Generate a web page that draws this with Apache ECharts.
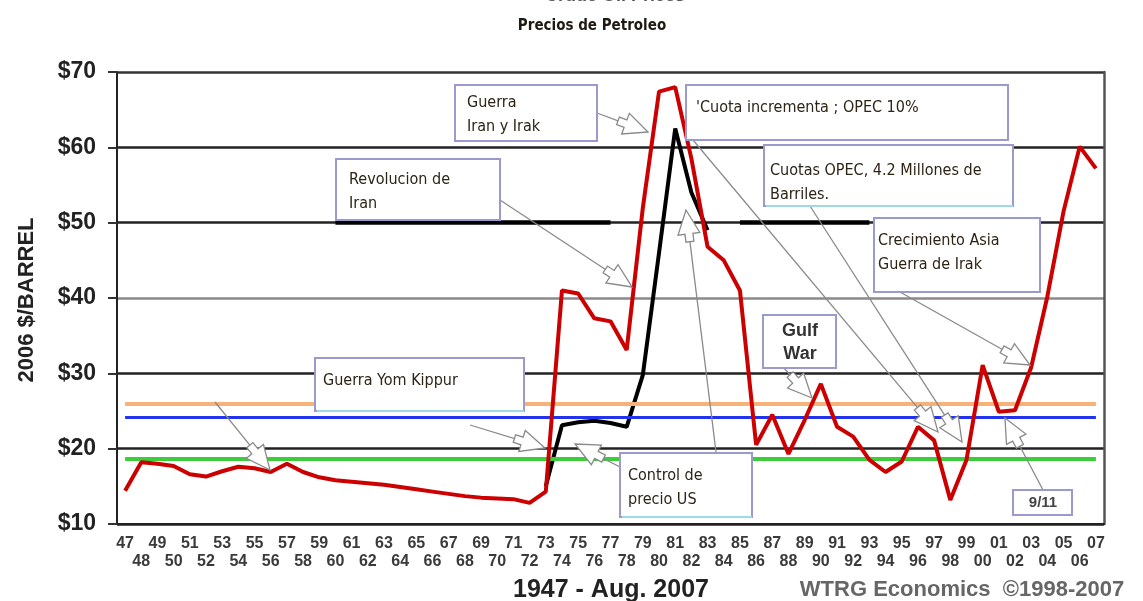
<!DOCTYPE html>
<html>
<head>
<meta charset="utf-8">
<script src="https://cdn.jsdelivr.net/npm/echarts@6/dist/echarts.min.js"></script>
<style>
html,body{margin:0;padding:0;background:#fff;}
#chart{width:1143px;height:601px;}
</style>
</head>
<body>
<div id="chart"></div>
<script>
const years = ['1947','1948','1949','1950','1951','1952','1953','1954','1955','1956','1957','1958','1959','1960','1961','1962','1963','1964','1965','1966','1967','1968','1969','1970','1971','1972','1973','1974','1975','1976','1977','1978','1979','1980','1981','1982','1983','1984','1985','1986','1987','1988','1989','1990','1991','1992','1993','1994','1995','1996','1997','1998','1999','2000','2001','2002','2003','2004','2005','2006','2007'];
const tickLabels = ['47','48','49','50','51','52','53','54','55','56','57','58','59','60','61','62','63','64','65','66','67','68','69','70','71','72','73','74','75','76','77','78','79','80','81','82','83','84','85','86','87','88','89','90','91','92','93','94','95','96','97','98','99','00','01','02','03','04','05','06','07'];
const realPrice2006 = [14.4,18.2,18.0,17.7,16.6,16.3,17.0,17.6,17.4,16.9,18.0,16.9,16.2,15.8,15.6,15.4,15.2,14.9,14.6,14.3,14.0,13.7,13.5,13.4,13.3,12.8,14.3,41.0,40.6,37.3,36.9,33.1,52.0,67.4,68.0,58.5,46.8,45.0,41.0,20.5,24.5,19.3,23.8,28.6,22.9,21.6,18.5,16.9,18.3,22.9,21.1,13.2,18.5,31.1,24.9,25.1,30.8,40.2,51.5,60.1,57.2];
const blackYears = ['1973','1974','1975','1976','1977','1978','1979','1980','1981','1982','1983'];
const blackValues = [15.0,23.1,23.5,23.7,23.4,22.9,29.8,46.0,62.5,54.0,49.0];
const refLevels = {orange: 26.0, blue: 24.2, green: 18.6};

const chart = echarts.init(document.getElementById('chart'));
const boxFont = '16px "Liberation Sans Narrow","DejaVu Sans Condensed","Roboto Condensed",sans-serif';
const boxColor = '#2d2416';
const border = '#9a9ad0';

function box(x, y, w, h, lines, tx, ty, opts) {
  opts = opts || {};
  const els = [{
    type: 'rect', z: 100,
    shape: {x: x, y: y, width: w, height: h},
    style: {fill: '#fff', stroke: border, lineWidth: 2}
  }];
  if (opts.cyanBottom) {
    els.push({type: 'line', z: 101, shape: {x1: x + 2, y1: y + h, x2: x + w, y2: y + h}, style: {stroke: '#9fd8ea', lineWidth: 2}});
  }
  lines.forEach(function (t, i) {
    els.push({
      type: 'text', z: 102, x: tx, y: ty + i * (opts.lh || 24),
      style: {text: t, font: opts.font || boxFont, fill: opts.fill || boxColor,
        textAlign: opts.align || 'left', textVerticalAlign: 'middle'}
    });
  });
  return els;
}
function arrow(x1, y1, x2, y2) {
  const dx = x2 - x1, dy = y2 - y1, len = Math.sqrt(dx * dx + dy * dy);
  const ux = dx / len, uy = dy / len, nx = -uy, ny = ux;
  const L = 24, W = 11;
  const bx = x2 - ux * L, by = y2 - uy * L;
  return [
    {type: 'line', z: 90, shape: {x1: x1, y1: y1, x2: bx, y2: by}, style: {stroke: '#8a8a8a', lineWidth: 1.3}},
    {type: 'polygon', z: 91, shape: {points: [[x2, y2], [bx + nx * W, by + ny * W], [bx + nx * 4, by + ny * 4], [bx - ux * 8 + nx * 4, by - uy * 8 + ny * 4], [bx - ux * 8 - nx * 4, by - uy * 8 - ny * 4], [bx - nx * 4, by - ny * 4], [bx - nx * W, by - ny * W]]},
      style: {fill: '#fff', stroke: '#8a8a8a', lineWidth: 1.3}}
  ];
}

let graphics = [];
graphics = graphics.concat(
  arrow(597, 113, 648, 132),
  arrow(500, 200, 632, 287),
  arrow(215, 402, 270, 470),
  arrow(470, 425, 545, 448),
  arrow(622, 468, 575, 444),
  arrow(716, 452, 686, 210),
  arrow(693, 140, 938, 432),
  arrow(810, 206, 962, 442),
  arrow(900, 292, 1030, 365),
  arrow(782, 366, 812, 398),
  arrow(1043, 490, 1005, 418),
  box(455, 85, 142, 56, ['Guerra', 'Iran y Irak'], 467, 103),
  box(336, 159, 164, 61, ['Revolucion de', 'Iran'], 349, 180),
  box(686, 85, 322, 55, ["'Cuota incrementa ; OPEC 10%"], 696, 108),
  box(764, 145, 249, 61, ['Cuotas OPEC, 4.2 Millones de', 'Barriles.'], 770, 171, {cyanBottom: true}),
  box(874, 218, 166, 74, ['Crecimiento Asia', 'Guerra de Irak'], 878, 241),
  box(763, 315, 73, 53, ['Gulf', 'War'], 800, 331, {font: 'bold 18px "Liberation Sans",Arial,sans-serif', fill: '#333', align: 'center', lh: 23}),
  box(315, 358, 209, 53, ['Guerra Yom Kippur'], 323, 381, {cyanBottom: true}),
  box(620, 453, 132, 64, ['Control de', 'precio US'], 628, 476, {cyanBottom: true}),
  box(1013, 490, 59, 25, ['9/11'], 1043, 503, {font: 'bold 15px "Liberation Sans",Arial,sans-serif', fill: '#444', align: 'center'})
);
graphics.push(
  {type: 'text', z: 110, x: 615, y: -4, style: {text: 'Crude Oil Prices', font: 'bold 18px "Liberation Sans",Arial,sans-serif', fill: '#555', textAlign: 'center', textVerticalAlign: 'middle'}},
  {type: 'text', z: 110, x: 592, y: 26, style: {text: 'Precios de Petroleo', font: 'bold 15px "Liberation Sans Narrow","DejaVu Sans Condensed",sans-serif', fill: '#1e1a12', textAlign: 'center', textVerticalAlign: 'middle'}},
  {type: 'text', z: 110, x: 27, y: 300, rotation: Math.PI / 2, style: {text: '2006 $/BARREL', font: 'bold 22px "Liberation Sans",Arial,sans-serif', fill: '#222', textAlign: 'center', textVerticalAlign: 'middle'}},
  {type: 'text', z: 110, x: 611, y: 590, style: {text: '1947 - Aug. 2007', font: 'bold 25px "Liberation Sans",Arial,sans-serif', fill: '#222', textAlign: 'center', textVerticalAlign: 'middle'}},
  {type: 'text', z: 110, x: 962, y: 590, style: {text: 'WTRG Economics  \u00A91998-2007', font: 'bold 22px "Liberation Sans",Arial,sans-serif', fill: '#666', textAlign: 'center', textVerticalAlign: 'middle'}}
);

function seg(y0, y1, v, color, width) {
  return [{coord: [y0, v], lineStyle: {color: color, width: width, type: 'solid'}}, {coord: [y1, v]}];
}

const option = {
  animation: false,
  grid: {left: 117, right: 39, top: 72, bottom: 77, containLabel: false},
  xAxis: {
    type: 'category', data: years, boundaryGap: true,
    axisLine: {lineStyle: {color: '#222', width: 2}},
    axisTick: {alignWithLabel: true, interval: 0, length: 6, lineStyle: {color: '#999', width: 2}},
    axisLabel: {
      interval: 0, margin: 11, color: '#3a3a3a', fontWeight: 'bold', fontSize: 16,
      fontFamily: '"Liberation Sans",Arial,sans-serif', lineHeight: 18,
      formatter: function (v, i) { return i % 2 === 0 ? tickLabels[i] : '\n' + tickLabels[i]; }
    },
    splitLine: {show: false}
  },
  yAxis: [{
    type: 'value', min: 10, max: 70, interval: 10,
    axisLine: {show: true, lineStyle: {color: '#222', width: 2}},
    axisTick: {show: true, length: 9, lineStyle: {color: '#333', width: 2}},
    axisLabel: {margin: 21, color: '#222', fontWeight: 'bold', fontSize: 23,
      fontFamily: '"Liberation Sans",Arial,sans-serif',
      formatter: function (v) { return '$' + v; }},
    splitLine: {show: true, lineStyle: {color: ['#222', '#222', '#222', '#8a8a8a', '#222', '#222', '#333'], width: 2.5}}
  }, {
    type: 'value', min: 10, max: 70, interval: 10, position: 'right',
    axisLine: {show: true, lineStyle: {color: '#555', width: 2.5}},
    axisTick: {show: false}, axisLabel: {show: false}, splitLine: {show: false}
  }],
  series: [{
    type: 'line', name: 'overlay', data: [], z: 1,
    markLine: {
      silent: true, symbol: 'none', label: {show: false},
      lineStyle: {type: 'solid'},
      data: [
        seg('1947', '2007', refLevels.orange, '#f7b27a', 4),
        seg('1947', '2007', refLevels.blue, '#2233ee', 3),
        seg('1947', '2007', refLevels.green, '#3ccc3c', 4),
        seg('1960', '1977', 50, '#000', 4.5),
        seg('1985', '1993', 50, '#000', 4.5)
      ]
    }
  }, {
    type: 'line', name: 'Real 2006 $', data: realPrice2006, z: 5,
    symbol: 'none', lineStyle: {color: '#cc0000', width: 4}
  }, {
    type: 'line', name: 'Black', data: blackYears.map(function (y, i) { return [y, blackValues[i]]; }), z: 4,
    symbol: 'none', lineStyle: {color: '#000', width: 4}
  }],
  graphic: {elements: graphics}
};
chart.setOption(option);
</script>
</body>
</html>
